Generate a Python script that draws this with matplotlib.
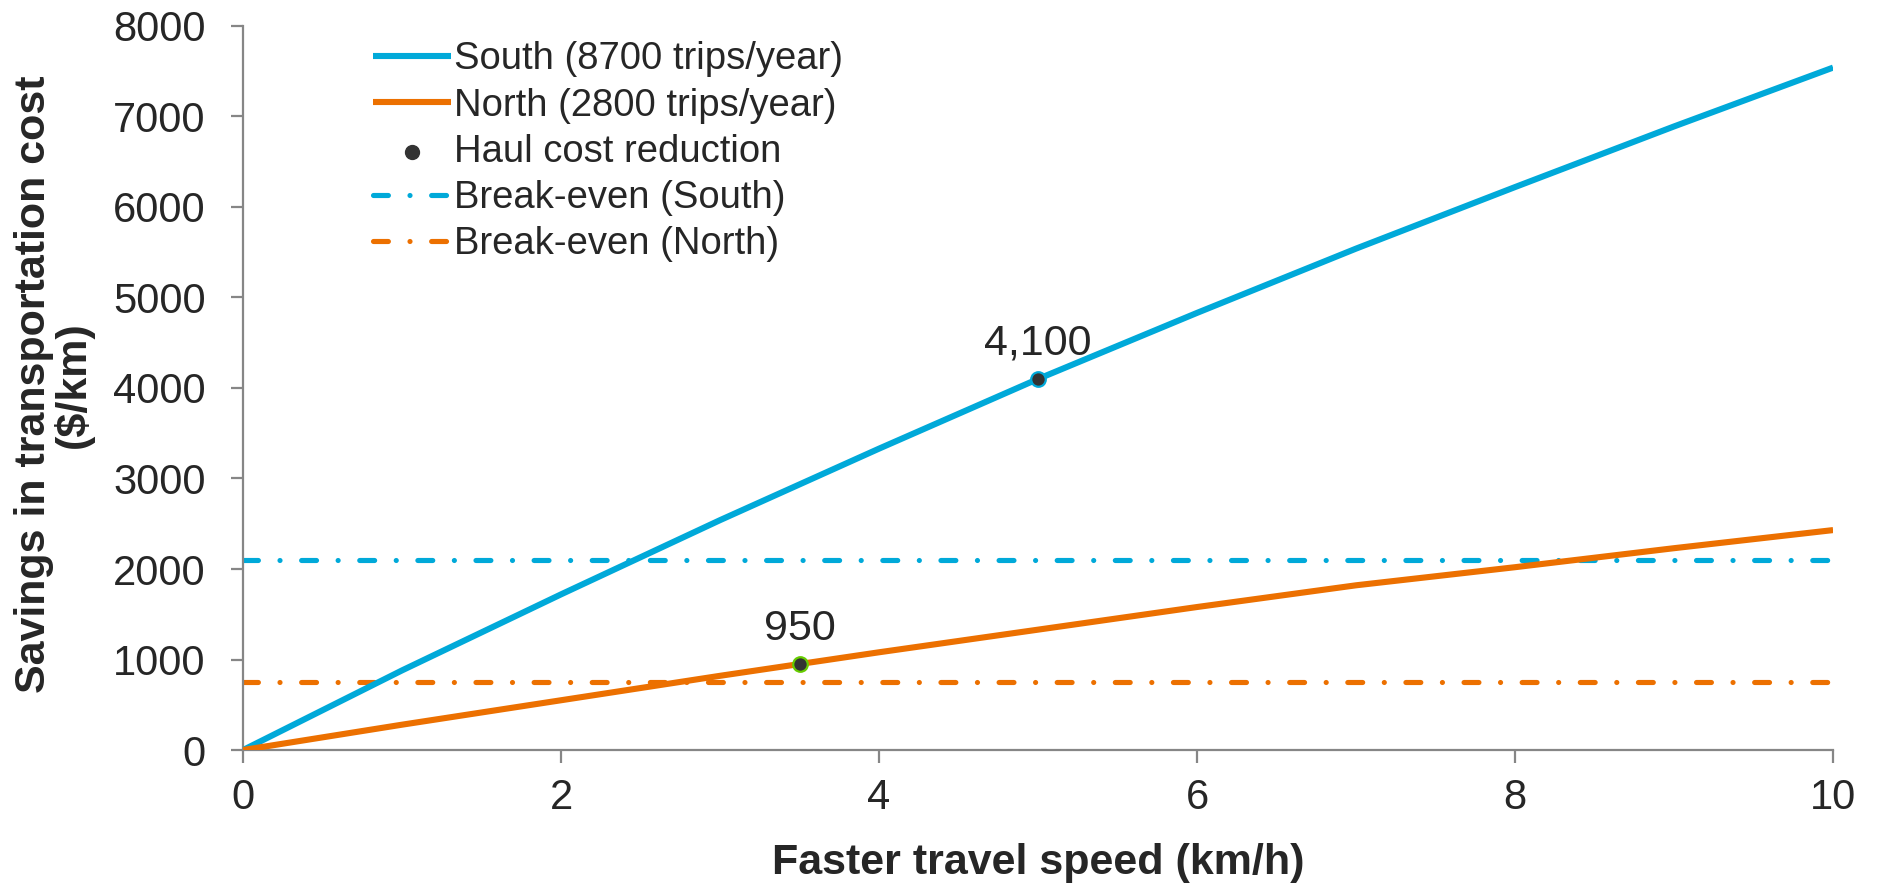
import matplotlib
matplotlib.use("Agg")
import matplotlib.pyplot as plt
import numpy as np

# speed gain (km/h) and savings ($/km) for both routes
speed = [0, 1, 2, 3, 4, 5, 6, 7, 8, 9, 10]
south_savings = [0, 880, 1720, 2540, 3330, 4100, 4830, 5540, 6220, 6890, 7540]
north_savings = [0, 280, 550, 820, 1080, 1330, 1580, 1820, 2020, 2230, 2430]

breakeven_south = 2100
breakeven_north = 750

# haul cost reduction points
haul_speed = [5, 3.5]
haul_value = [4100, 950]
haul_labels = ["4,100", "950"]

c_south = "#00a9d9"
c_north = "#ec7000"
c_text = "#262626"
c_axis = "#868686"

plt.rcParams["font.family"] = ["Liberation Sans", "DejaVu Sans"]

fig = plt.figure(figsize=(18.77, 8.83), dpi=100)
ax = fig.add_axes([0.1295, 0.1506, 0.8471, 0.8200])

lw = 4.4
lw_dash = 3.7
ax.plot(speed, south_savings, color=c_south, lw=lw, solid_capstyle="butt",
        label="South (8700 trips/year)", zorder=3)
ax.plot(speed, north_savings, color=c_north, lw=lw, solid_capstyle="butt",
        label="North (2800 trips/year)", zorder=3)

# marker edges follow the series they sit on
ax.scatter(haul_speed[0], haul_value[0], s=110, color="#333333",
           edgecolors=c_south, linewidths=1.6, zorder=5)
ax.scatter(haul_speed[1], haul_value[1], s=110, color="#333333",
           edgecolors="#66cc00", linewidths=1.6, zorder=5)
ax.scatter([], [], s=100, color="#333333", label="Haul cost reduction")

for x, y, t in zip(haul_speed, haul_value, haul_labels):
    ax.annotate(t, (x, y), xytext=(0, 11), textcoords="offset points",
                ha="center", va="bottom", fontsize=31, color=c_text)

dash = (0, (2.9, 4.2, 0.01, 4.2))
ax.axhline(breakeven_south, color=c_south, lw=lw_dash, linestyle=dash,
           dash_capstyle="round", label="Break-even (South)", zorder=2)
ax.axhline(breakeven_north, color=c_north, lw=lw_dash, linestyle=dash,
           dash_capstyle="round", label="Break-even (North)", zorder=2)

ax.set_xlim(0, 10)
ax.set_ylim(0, 8000)
ax.set_xticks([0, 2, 4, 6, 8, 10])
ax.set_yticks(np.arange(0, 8001, 1000))

for s in ["top", "right"]:
    ax.spines[s].set_visible(False)
for s in ["left", "bottom"]:
    ax.spines[s].set_color(c_axis)
    ax.spines[s].set_linewidth(1.6)

ax.tick_params(axis="both", colors=c_axis, labelcolor=c_text,
               labelsize=30, length=9, width=1.6, direction="out")
ax.tick_params(axis="x", pad=11)
ax.tick_params(axis="y", pad=18)

ax.set_xlabel("Faster travel speed (km/h)", fontsize=31, fontweight="bold",
              color=c_text, labelpad=18)
ax.set_ylabel("Savings in transportation cost\n($/km)", fontsize=31,
              fontweight="bold", color=c_text, linespacing=0.95)
ax.yaxis.set_label_coords(-0.094, 0.505)

leg = ax.legend(loc="upper left", bbox_to_anchor=(0.072, 1.0), frameon=False,
                fontsize=27.5, handlelength=2.05, handletextpad=0.08,
                labelspacing=0.27, borderaxespad=0)
for t in leg.get_texts():
    t.set_color(c_text)

fig.savefig("out.png", dpi=100)
